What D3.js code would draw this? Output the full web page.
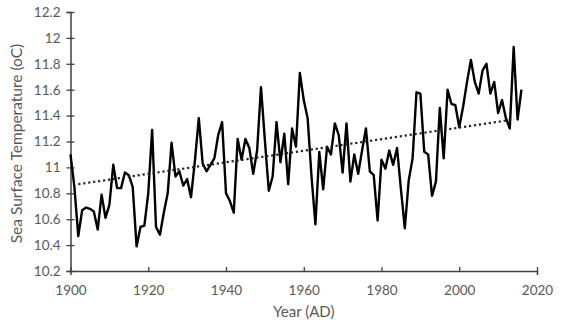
<!DOCTYPE html>
<html>
<head>
<meta charset="utf-8">
<script src="https://cdn.jsdelivr.net/npm/d3@7"></script>
<style>
  html, body { margin: 0; padding: 0; background: #fff; }
  svg { display: block; }
  text { font-family: Lato, "Open Sans", sans-serif; fill: #595959; }
</style>
</head>
<body>
<svg id="chart" width="563" height="330"></svg>
<script>
const years = d3.range(1900, 2017);
const sst = [
  11.10, 10.85, 10.47, 10.67, 10.69, 10.68, 10.66, 10.52, 10.79, 10.61,
  10.71, 11.02, 10.84, 10.84, 10.96, 10.94, 10.85, 10.39, 10.54, 10.55,
  10.80, 11.29, 10.54, 10.48, 10.65, 10.80, 11.19, 10.93, 10.97, 10.86,
  10.91, 10.77, 11.05, 11.38, 11.03, 10.97, 11.02, 11.07, 11.25, 11.35,
  10.80, 10.74, 10.65, 11.22, 11.06, 11.22, 11.15, 10.95, 11.13, 11.62,
  11.21, 10.82, 10.93, 11.35, 11.04, 11.26, 10.87, 11.30, 11.16, 11.73,
  11.52, 11.38, 10.93, 10.56, 11.12, 10.83, 11.16, 11.10, 11.34, 11.25,
  10.96, 11.34, 10.89, 11.10, 10.95, 11.13, 11.30, 10.97, 10.94, 10.59,
  11.06, 10.99, 11.13, 11.02, 11.15, 10.83, 10.53, 10.90, 11.07, 11.58,
  11.57, 11.12, 11.10, 10.78, 10.89, 11.46, 11.07, 11.60, 11.49, 11.48,
  11.31, 11.47, 11.66, 11.83, 11.66, 11.57, 11.75, 11.80, 11.57, 11.66,
  11.42, 11.52, 11.38, 11.30, 11.93, 11.37, 11.60
];
const trendYears = [1902, 2014];
const trendValues = [10.87, 11.37];
const xTicks = [1900, 1920, 1940, 1960, 1980, 2000, 2020];
const yTicks = [10.2, 10.4, 10.6, 10.8, 11, 11.2, 11.4, 11.6, 11.8, 12, 12.2];

const svg = d3.select("#chart");
const mLeft = 70.5, mRight = 537, mTop = 12, mBottom = 271;

const x = d3.scaleLinear().domain([1900, 2020]).range([mLeft, mRight]);
const y = d3.scaleLinear().domain([10.2, 12.2]).range([mBottom, mTop]);

const axisColor = "#404040";

// Y axis
const yAxis = svg.append("g").attr("transform", `translate(${mLeft},0)`)
  .call(d3.axisLeft(y).tickValues(yTicks).tickSize(4).tickPadding(6)
    .tickFormat(d => String(+d.toFixed(1))));
yAxis.select(".domain").attr("stroke", axisColor).attr("stroke-width", 1.5);
yAxis.selectAll(".tick line").attr("stroke", axisColor).attr("stroke-width", 1.3).attr("x2", 4).attr("x1", -4);
yAxis.selectAll(".tick text").attr("font-size", 13.5).style("fill", "#595959")
  .attr("font-family", "Lato, sans-serif");

// X axis
const xAxis = svg.append("g").attr("transform", `translate(0,${mBottom})`)
  .call(d3.axisBottom(x).tickValues(xTicks).tickSize(4).tickPadding(10).tickFormat(d3.format("d")));
xAxis.select(".domain").attr("stroke", axisColor).attr("stroke-width", 1.5);
xAxis.selectAll(".tick line").attr("stroke", axisColor).attr("stroke-width", 1.3).attr("y1", -4).attr("y2", 1);
xAxis.selectAll(".tick text").attr("font-size", 13.5).style("fill", "#595959")
  .attr("font-family", "Lato, sans-serif");

// Axis titles
svg.append("text")
  .attr("transform", `translate(22,${(mTop + mBottom) / 2 + 2}) rotate(-90)`)
  .attr("text-anchor", "middle")
  .attr("font-size", 15.5)
  .text("Sea Surface Temperature (oC)");
svg.append("text")
  .attr("x", (mLeft + mRight) / 2)
  .attr("y", 317)
  .attr("text-anchor", "middle")
  .attr("font-size", 15)
  .text("Year (AD)");

// Data line
const pts = years.map((yr, i) => [yr, sst[i]]);
svg.append("path")
  .datum(pts)
  .attr("fill", "none")
  .attr("stroke", "#000")
  .attr("stroke-width", 2.4)
  .attr("stroke-linejoin", "round")
  .attr("d", d3.line().x(d => x(d[0])).y(d => y(d[1])));

// Trend line
svg.append("path")
  .datum(trendYears.map((yr, i) => [yr, trendValues[i]]))
  .attr("fill", "none")
  .attr("stroke", "#222")
  .attr("stroke-width", 2.2)
  .attr("stroke-dasharray", "2.2,2.8")
  .attr("d", d3.line().x(d => x(d[0])).y(d => y(d[1])));
</script>
</body>
</html>
